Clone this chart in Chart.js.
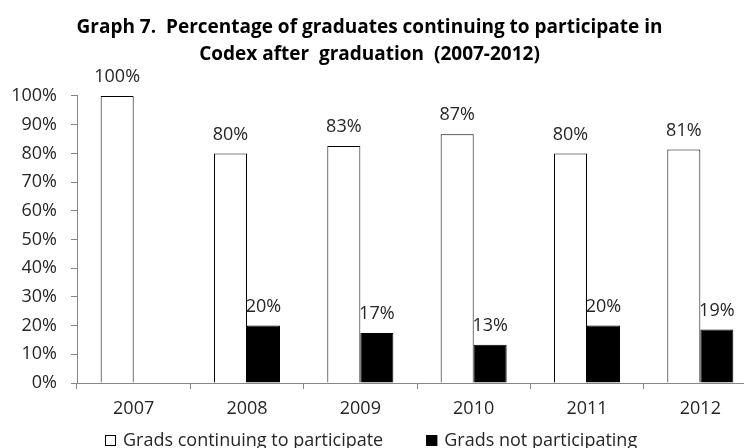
<!DOCTYPE html>
<html>
<head>
<meta charset="utf-8">
<script src="https://cdn.jsdelivr.net/npm/chart.js@4/dist/chart.umd.min.js"></script>
<style>
  html, body { margin: 0; padding: 0; background: #fff; overflow: hidden; }
  #wrap { width: 762px; height: 448px; }
</style>
</head>
<body>
<div id="wrap"><canvas id="c" width="762" height="448"></canvas></div>
<script>
const categories = ["2007", "2008", "2009", "2010", "2011", "2012"];
const continuing = [100, 80, 82.6, 86.7, 80, 81.4];
const notParticipating = [null, 20, 17.4, 13.3, 20, 18.6];
const seriesNames = ["Grads continuing to participate", "Grads not participating"];
const titleLines = ["Graph 7.  Percentage of graduates continuing to participate in", "Codex after  graduation  (2007-2012)"];

const FONT = "'Open Sans', sans-serif";
const TEXT = "#262626";

const valueLabels = {
  id: "valueLabels",
  afterDatasetsDraw(chart) {
    const ctx = chart.ctx;
    ctx.save();
    ctx.font = "18px " + FONT;
    ctx.fillStyle = TEXT;
    ctx.textAlign = "center";
    ctx.textBaseline = "middle";
    chart.data.datasets.forEach((ds, di) => {
      const meta = chart.getDatasetMeta(di);
      meta.data.forEach((el, i) => {
        const v = ds.data[i];
        if (v === null || v === undefined) return;
        ctx.fillText(Math.round(v) + "%", el.x, el.y - 19);
      });
    });
    ctx.restore();
  }
};

const shiftTitle = {
  id: "shiftTitle",
  afterLayout(chart) {
    const t = chart.titleBlock;
    if (t) { t.left -= 18; }
  }
};

const bottomLegend = {
  id: "bottomLegend",
  afterDraw(chart) {
    const ctx = chart.ctx;
    const area = chart.chartArea;
    ctx.save();
    ctx.font = "18px " + FONT;
    ctx.textBaseline = "middle";
    ctx.textAlign = "left";
    const y = 440;
    let x = area.left + 28;
    chart.data.datasets.forEach((ds, di) => {
      ctx.fillStyle = ds.backgroundColor;
      ctx.fillRect(x, y - 5, 11, 11);
      ctx.strokeStyle = "#000";
      ctx.lineWidth = 1;
      ctx.strokeRect(x + 0.5, y - 4.5, 10, 10);
      ctx.fillStyle = TEXT;
      ctx.fillText(ds.label, x + 18, y + 1);
      x += 18 + ctx.measureText(ds.label).width + 43;
    });
    ctx.restore();
  }
};

new Chart(document.getElementById("c"), {
  type: "bar",
  data: {
    labels: categories,
    datasets: [
      {
        label: seriesNames[0],
        data: continuing,
        backgroundColor: "#ffffff",
        borderColor: "#000000",
        borderWidth: 1,
        categoryPercentage: 0.5825,
        barPercentage: 1
      },
      {
        label: seriesNames[1],
        data: notParticipating,
        backgroundColor: "#000000",
        borderColor: "#000000",
        borderWidth: 1,
        categoryPercentage: 0.5825,
        barPercentage: 1
      }
    ]
  },
  options: {
    responsive: false,
    animation: false,
    layout: { padding: { left: 0, right: 5, top: 0, bottom: 0 } },
    plugins: {
      legend: { display: false },
      tooltip: { enabled: false },
      title: {
        display: true,
        text: titleLines,
        color: "#000",
        font: { family: FONT, size: 19, weight: "bold", lineHeight: 1.421 },
        padding: { top: 14.5, bottom: 27.5 }
      }
    },
    scales: {
      x: {
        grid: { display: true, drawOnChartArea: false, drawTicks: true, tickLength: 6, color: "#868686" },
        border: { display: true, color: "#868686", width: 1 },
        ticks: { color: TEXT, font: { family: FONT, size: 18 }, padding: 9, maxRotation: 0 },
        afterFit(scale) { scale.height = 65; }
      },
      y: {
        min: 0,
        max: 100,
        grid: { display: true, drawOnChartArea: false, drawTicks: true, tickLength: 6, color: "#868686" },
        border: { display: true, color: "#868686", width: 1 },
        ticks: { stepSize: 10, color: TEXT, font: { family: FONT, size: 18 }, padding: 14, callback: v => v + "%" },
        afterFit(scale) { scale.width = 77; }
      }
    }
  },
  plugins: [valueLabels, shiftTitle, bottomLegend]
});
</script>
</body>
</html>
